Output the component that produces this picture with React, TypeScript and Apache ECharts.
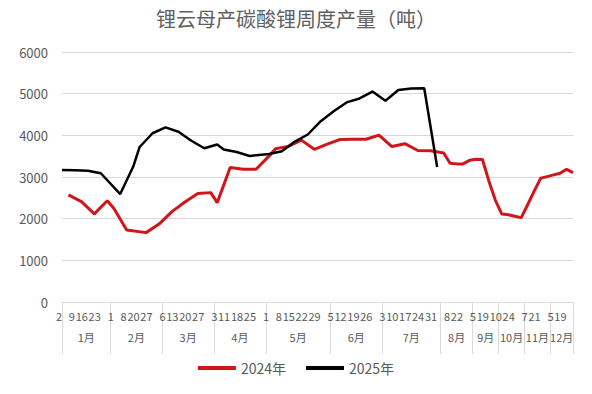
import React, { useEffect, useRef } from 'react';
import * as echarts from 'echarts';

// Week labels (day of month); every other one is shown, as in the source
const dayLabels = [
  '2', '4', '9', '11', '16', '18', '23', '25',
  '1', '6', '8', '13', '20', '22', '27', '29',
  '6', '7', '13', '14', '20', '21', '27', '28',
  '3', '10', '11', '17', '18', '24', '25', '30',
  '1', '2', '8', '9', '15', '16', '22', '23', '29', '30',
  '5', '6', '12', '13', '19', '20', '26', '27',
  '3', '4', '10', '11', '17', '18', '24', '25', '31',
  '1', '8', '15', '22', '29',
  '5', '12', '19', '26',
  '10', '17', '24', '31',
  '7', '14', '21', '28',
  '5', '12', '19', '26',
];

const monthLabels = ['1月', '2月', '3月', '4月', '5月', '6月', '7月', '8月', '9月', '10月', '11月', '12月'];
const monthWeekCounts = [8, 8, 8, 8, 10, 8, 9, 5, 4, 4, 4, 4];

const output2024: (number | null)[] = [
  null, 2570, null, 2410, null, 2115, null, 2430,
  2250, null, 1730, null, null, 1665, null, 1870,
  null, 2170, null, 2400, null, 2605, null, 2625,
  2385, null, 3230, null, 3185, null, 3185, null,
  3500, 3680, null, 3735, null, 3885, null, 3665, null, 3790,
  null, 3900, null, 3905, null, 3905, null, 4005,
  null, 3730, null, 3800, null, 3635, null, 3630, null,
  3575, 3330, 3315, 3315, 3400,
  3425, 3420, 2900, 2440,
  2110, 2095, 2060, 2025,
  2340, 2660, 2970, 3010,
  3050, 3090, 3185, 3105,
];

const output2025: (number | null)[] = [
  3170, null, 3160, null, 3150, null, 3090, null,
  null, 2590, null, 3245, 3720, null, 4050, null,
  4190, null, 4085, null, 3870, null, 3690, null,
  3780, 3660, null, 3600, null, 3505, null, null,
  3550, null, 3620, null, 3850, null, 4020, null, 4340, null,
  4580, null, 4790, null, 4885, null, 5050, null,
  4830, null, 5090, null, 5125, null, 5130, null, 3240,
  null, null, null, null, null,
  null, null, null, null,
  null, null, null, null,
  null, null, null, null,
  null, null, null, null,
];

const yMin = 0;
const yMax = 6000;
const yInterval = 1000;

const labelColor = '#595959';
const gridColor = '#d9d9d9';
const font = '"Noto Sans CJK SC", "Noto Sans", sans-serif';

export default function App() {
  const ref = useRef<HTMLDivElement>(null);

  useEffect(() => {
    document.body.style.margin = '0';
    const chart = echarts.init(ref.current!, null, { renderer: 'svg' });

    const last = dayLabels.length - 1;
    const bounds: number[] = [0];
    let acc = 0;
    monthWeekCounts.forEach((c, i) => {
      acc += c;
      bounds.push(i === monthWeekCounts.length - 1 ? last : acc - 0.5);
    });
    const centers = monthWeekCounts.map((_, i) => (bounds[i] + bounds[i + 1]) / 2);

    chart.setOption({
      animation: false,
      backgroundColor: '#ffffff',
      title: {
        text: '锂云母产碳酸锂周度产量（吨）',
        left: 'center',
        top: 3,
        textStyle: { fontFamily: font, fontSize: 20, fontWeight: 'normal', color: '#606060' },
      },
      legend: {
        bottom: 14,
        left: 'center',
        icon: 'rect',
        itemWidth: 38,
        itemHeight: 4,
        itemGap: 20,
        textStyle: { fontFamily: font, fontSize: 14, color: labelColor },
        data: ['2024年', '2025年'],
      },
      grid: { left: 62, right: 19, top: 52, bottom: 92, containLabel: false },
      xAxis: [
        {
          type: 'category',
          data: dayLabels,
          boundaryGap: false,
          axisLine: { show: true, lineStyle: { color: gridColor } },
          axisTick: { show: false },
          axisLabel: {
            interval: 1,
            align: 'right',
            margin: 8,
            fontFamily: font,
            fontSize: 11,
            color: labelColor,
          },
          splitLine: { show: false },
        },
        {
          type: 'value',
          position: 'bottom',
          min: 0,
          max: last,
          axisLine: { show: false },
          splitLine: { show: false },
          axisTick: {
            show: true,
            inside: false,
            length: 52,
            customValues: bounds,
            lineStyle: { color: gridColor },
          },
          axisLabel: {
            show: true,
            customValues: centers,
            margin: 29,
            fontFamily: font,
            fontSize: 11,
            color: labelColor,
            formatter: (v: number) => {
              const i = centers.findIndex((c) => Math.abs(c - v) < 1e-6);
              return i >= 0 ? monthLabels[i] : '';
            },
          },
        },
      ],
      yAxis: {
        type: 'value',
        min: yMin,
        max: yMax,
        interval: yInterval,
        axisLine: { show: false },
        axisTick: { show: false },
        axisLabel: {
          fontFamily: font,
          fontSize: 13,
          color: labelColor,
          margin: 14,
          formatter: (v: number) => String(v),
        },
        splitLine: { lineStyle: { color: gridColor } },
      },
      series: [
        {
          name: '2024年',
          type: 'line',
          data: output2024,
          connectNulls: true,
          showSymbol: false,
          symbol: 'none',
          lineStyle: { color: '#d0161b', width: 3 },
          itemStyle: { color: '#d0161b' },
        },
        {
          name: '2025年',
          type: 'line',
          data: output2025,
          connectNulls: true,
          showSymbol: false,
          symbol: 'none',
          lineStyle: { color: '#000000', width: 2.5 },
          itemStyle: { color: '#000000' },
        },
      ],
    });

    return () => chart.dispose();
  }, []);

  return (
    <div
      ref={ref}
      style={{ position: 'absolute', left: 0, top: 0, width: 592, height: 394 }}
    />
  );
}
